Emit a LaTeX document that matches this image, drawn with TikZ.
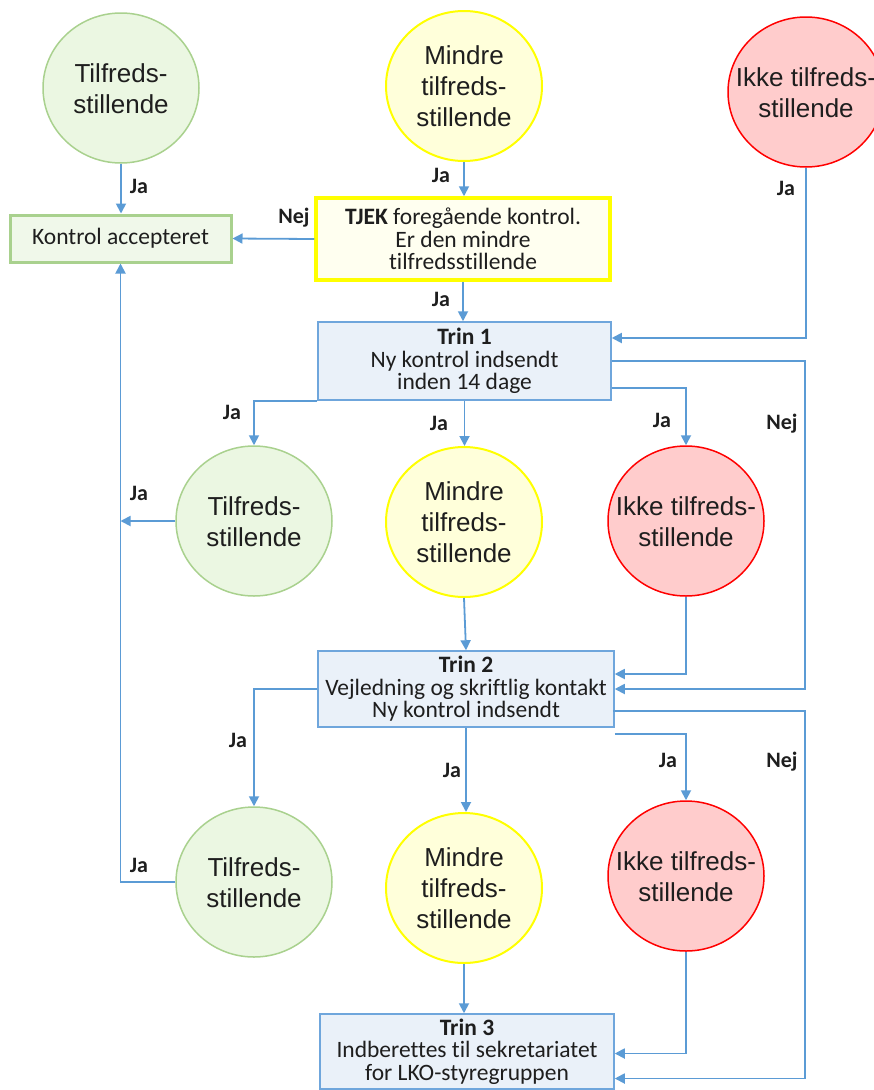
\documentclass[tikz,border=0pt]{standalone}
\usepackage{fontspec}
\setmainfont[Ligatures=NoCommon]{Carlito}
\newfontfamily\arialf{Liberation Sans}
\usetikzlibrary{shapes.geometric,arrows.meta,calc}
\definecolor{lineblue}{HTML}{5B9BD5}
\definecolor{gfill}{HTML}{EBF7E2}
\definecolor{gline}{HTML}{A9D18E}
\definecolor{yfill}{HTML}{FFFFDA}
\definecolor{yline}{HTML}{FFFF00}
\definecolor{rfill}{HTML}{FFCCCC}
\definecolor{rline}{HTML}{FF0000}
\definecolor{kafill}{HTML}{F0F8EA}
\definecolor{tjfill}{HTML}{FFFFF0}
\definecolor{trfill}{HTML}{EAF1F9}
\definecolor{trline}{HTML}{6FA6DC}
\definecolor{txt}{HTML}{1E1E1E}
\newcommand\ctext[1]{\raisebox{-0.25em}[0pt][0pt]{\makebox[0pt]{\parbox[c]{220pt}{\centering #1}}}}
\begin{document}
\begin{tikzpicture}[x=1pt,y=-1pt,
  ln/.style={draw=lineblue, line width=1.8pt},
  arr/.style={ln, -{Triangle[length=10pt,width=10pt]}},
  circ/.style={ellipse, minimum width=156pt, minimum height=150pt, inner sep=0pt,
    line width=1.5pt, text=txt,
    font=\arialf\fontsize{26}{31}\selectfont},
  gcirc/.style={circ, fill=gfill, draw=gline},
  ycirc/.style={circ, fill=yfill, draw=yline, line width=2pt},
  rcirc/.style={circ, fill=rfill, draw=rline},
  box/.style={rectangle, inner sep=0pt, align=center, text=txt,
    font=\fontsize{23.5}{22.5}\selectfont},
  trbox/.style={box, fill=trfill, draw=trline, line width=1.5pt},
  lab/.style={inner sep=0pt, text=txt, font=\fontsize{22}{24}\selectfont\bfseries}
]
\useasboundingbox (0,0) rectangle (874,1090);

% row 1
\node[gcirc] (g1) at (121,88) {\ctext{Tilfreds-\\stillende}};
\node[ycirc] (y1) at (464,86) {\ctext{Mindre\\tilfreds-\\stillende}};
\node[rcirc] (r1) at (806,92) {\ctext{Ikke tilfreds-\\stillende}};

% boxes
\node[box, fill=kafill, draw=gline, line width=3pt, minimum width=221pt, minimum height=47pt] (ka) at (120.5,238.5) {Kontrol accepteret};
\node[box, fill=tjfill, draw=yline, line width=3.5pt, minimum width=294pt, minimum height=82pt] (tj) at (463,239) {\textbf{TJEK} foregående kontrol.\\Er den mindre\\tilfredsstillende};
\node[trbox, minimum width=293pt, minimum height=78pt] (t1) at (464.5,361) {\textbf{Trin 1}\\Ny kontrol indsendt\\inden 14 dage};

% row 2
\node[gcirc] (g2) at (254,521) {\ctext{Tilfreds-\\stillende}};
\node[ycirc] (y2) at (464,522) {\ctext{Mindre\\tilfreds-\\stillende}};
\node[rcirc] (r2) at (686,521) {\ctext{Ikke tilfreds-\\stillende}};

\node[trbox, minimum width=296pt, minimum height=76pt] (t2) at (466,689) {\textbf{Trin 2}\\Vejledning og skriftlig kontakt\\Ny kontrol indsendt};

% row 3
\node[gcirc] (g3) at (254,882) {\ctext{Tilfreds-\\stillende}};
\node[ycirc] (y3) at (464,888) {\ctext{Mindre\\tilfreds-\\stillende}};
\node[rcirc] (r3) at (686,876) {\ctext{Ikke tilfreds-\\stillende}};

\node[trbox, minimum width=294pt, minimum height=75pt] (t3) at (467,1051.5) {\textbf{Trin 3}\\Indberettes til sekretariatet\\for LKO-styregruppen};

\coordinate (n1) at (805,500);
\coordinate (n2) at (805,900);

% connectors
\draw[arr] (g1.south) -- (g1.south |- ka.north);
\draw[arr] (y1.south) -- (y1.south |- tj.north);
\draw[arr] (tj.west) -- (ka.east);
\draw[arr] (tj.south) -- (tj.south |- t1.north);
\draw[arr] (r1.south) |- ($(t1.east)+(0,-23)$);
\draw[arr] (t1.east) -| (n1) |- (t2.east);
\draw[arr] ($(t1.east)+(0,27)$) -| (r2.north);
\draw[arr] (t1.south) -- (t1.south |- y2.north);
\draw[arr] (t1.south west) -| (g2.north);
\draw[arr] (g2.west) -- (g2.west -| ka.south);
\draw[arr] (g3.west) -| (ka.south);
\draw[arr] (y2.south) -- (t2.north);
\draw[arr] (r2.south) |- ($(t2.east)+(0,-15)$);
\draw[arr] (t2.west) -| (g3.north);
\draw[arr] (t2.south) -- (t2.south |- y3.north);
\draw[arr] ($(t2.south east)+(0,6)$) -| (r3.north);
\draw[arr] ($(t2.east)+(-2,22)$) -| (n2) |- ($(t3.east)+(0,27)$);
\draw[arr] (y3.south) -- (y3.south |- t3.north);
\draw[arr] (r3.south) |- ($(t3.east)+(0,2)$);

% labels
\node[lab] (l1) at (139,186) {Ja};
\node[lab] (l2) at (441,175) {Ja};
\node[lab] (l3) at (294,218) {Nej};
\node[lab] (l4) at (441,299) {Ja};
\node[lab] (l5) at (786,188) {Ja};
\node[lab] (l6) at (232,412) {Ja};
\node[lab] (l7) at (439,423) {Ja};
\node[lab] (l8) at (662,420) {Ja};
\node[lab] (l9) at (782,424) {Nej};
\node[lab] (l10) at (139,493) {Ja};
\node[lab] (l11) at (238,740) {Ja};
\node[lab] (l12) at (452,770) {Ja};
\node[lab] (l13) at (668,760) {Ja};
\node[lab] (l14) at (782,762) {Nej};
\node[lab] (l15) at (139,865) {Ja};
\end{tikzpicture}
\end{document}
